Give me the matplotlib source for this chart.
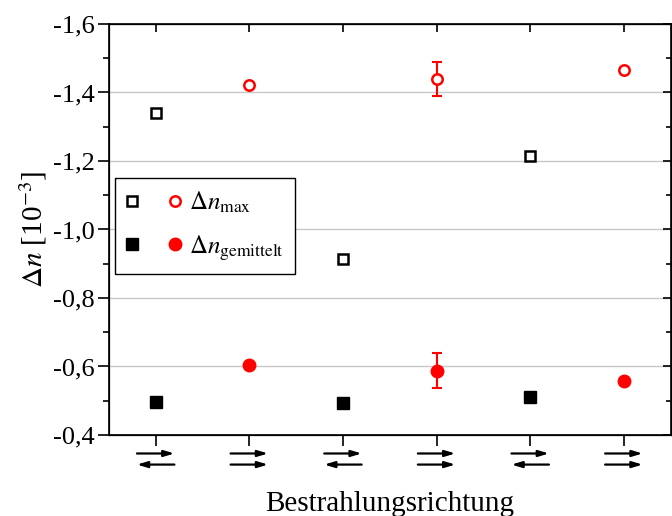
import matplotlib

matplotlib.use("Agg")
import matplotlib.pyplot as plt
import matplotlib.transforms as mtransforms
from matplotlib.legend_handler import HandlerTuple
from matplotlib.lines import Line2D
from matplotlib.ticker import FuncFormatter, MultipleLocator

plt.rcParams["font.family"] = ["Liberation Serif", "DejaVu Serif"]
plt.rcParams["mathtext.fontset"] = "stix"

# Daten (Delta n in 10^-3, Achse invertiert)
positionen = [1, 2, 3, 4, 5, 6]
# Pfeilrichtungen je Kategorie: (oben, unten), +1 = nach rechts, -1 = nach links
richtungen = [(1, -1), (1, 1), (1, -1), (1, 1), (1, -1), (1, 1)]

# Quadrate: Kategorien 1, 3, 5 ; Kreise: Kategorien 2, 4, 6
x_quadrat = [1, 3, 5]
x_kreis = [2, 4, 6]
dn_max_quadrat = [-1.339, -0.914, -1.215]
dn_max_kreis = [-1.422, -1.439, -1.466]
dn_max_kreis_fehler = [0.0, 0.05, 0.0]
dn_mittel_quadrat = [-0.497, -0.494, -0.512]
dn_mittel_kreis = [-0.603, -0.588, -0.559]
dn_mittel_kreis_fehler = [0.0, 0.05, 0.0]

figure = plt.figure(figsize=(6.72, 5.16), dpi=100)
axis = figure.add_axes([0.162, 0.157, 0.836, 0.7965])

axis.set_xlim(0.5, 6.5)
axis.set_ylim(-0.4, -1.6)

# Gitterlinien
axis.yaxis.set_major_locator(MultipleLocator(0.2))
axis.yaxis.set_minor_locator(MultipleLocator(0.1))
axis.grid(axis="y", which="major", color="#c8c8c8", linewidth=1.0)
axis.set_axisbelow(True)

axis.yaxis.set_major_formatter(
    FuncFormatter(lambda v, _: f"{v:.1f}".replace(".", ","))
)
axis.tick_params(axis="y", which="major", direction="out", length=8, width=1.2,
                 labelsize=19, pad=2)
axis.tick_params(axis="y", which="minor", direction="out", length=4.5, width=1.2)
axis.set_xticks(positionen)
axis.set_xticklabels([])
axis.tick_params(axis="x", direction="out", length=8, width=1.2)
for spine in axis.spines.values():
    spine.set_linewidth(1.2)

# rechte und obere Achse mit Ticks nach innen
right = axis.twinx()
right.set_ylim(axis.get_ylim())
right.yaxis.set_major_locator(MultipleLocator(0.2))
right.yaxis.set_minor_locator(MultipleLocator(0.1))
right.tick_params(axis="y", which="major", direction="in", length=6, width=1.2,
                  labelright=False)
right.tick_params(axis="y", which="minor", direction="in", length=3.5, width=1.2)
top = axis.twiny()
top.set_xlim(axis.get_xlim())
top.set_xticks(positionen)
top.tick_params(axis="x", direction="in", length=6, width=1.2, labeltop=False)

# Messpunkte
axis.plot(x_quadrat, dn_max_quadrat, "s", markersize=6.5, markerfacecolor="white",
          markeredgecolor="black", markeredgewidth=1.8, zorder=4)
axis.plot(x_quadrat, dn_mittel_quadrat, "s", markersize=8, color="black", zorder=4)
axis.plot(x_kreis, dn_max_kreis, "o", markersize=7.5, markerfacecolor="white",
          markeredgecolor="red", markeredgewidth=1.8, zorder=4)
axis.plot(x_kreis, dn_mittel_kreis, "o", markersize=9, color="red", zorder=4)

for werte, fehler in ((dn_max_kreis, dn_max_kreis_fehler),
                      (dn_mittel_kreis, dn_mittel_kreis_fehler)):
    for x, y, f in zip(x_kreis, werte, fehler):
        if f > 0:
            axis.errorbar(x, y, yerr=f, fmt="none", ecolor="red", elinewidth=1.5,
                          capsize=3.4, capthick=1.5, zorder=3)

# Pfeile als Tick-Beschriftung
trans = mtransforms.blended_transform_factory(axis.transData, axis.transAxes)
halbe_laenge = 0.2
for x, (oben, unten) in zip(positionen, richtungen):
    for y, richtung in ((-0.045, oben), (-0.072, unten)):
        start = x - richtung * halbe_laenge
        ende = x + richtung * halbe_laenge
        axis.annotate("", xy=(ende, y), xytext=(start, y), xycoords=trans,
                      textcoords=trans, annotation_clip=False,
                      arrowprops=dict(arrowstyle="-|>,head_length=0.6,head_width=0.18",
                                      color="black", lw=1.6, shrinkA=0, shrinkB=0))

axis.set_xlabel("Bestrahlungsrichtung", fontsize=21, labelpad=29)
axis.set_ylabel(r"$\Delta n$ [10$^{-3}$]", fontsize=21, labelpad=3)

# Legende
handles = [
    (Line2D([], [], ls="none", marker="s", markersize=6.5, markerfacecolor="white",
            markeredgecolor="black", markeredgewidth=1.8),
     Line2D([], [], ls="none", marker="o", markersize=7.5, markerfacecolor="white",
            markeredgecolor="red", markeredgewidth=1.8)),
    (Line2D([], [], ls="none", marker="s", markersize=8, color="black"),
     Line2D([], [], ls="none", marker="o", markersize=9, color="red")),
]
labels = [r"$\Delta n_{\mathrm{max}}$", r"$\Delta n_{\mathrm{gemittelt}}$"]
legend = axis.legend(
    handles, labels,
    handler_map={tuple: HandlerTuple(ndivide=None, pad=1.2)},
    loc="upper left", bbox_to_anchor=(0.0107, 0.625), borderaxespad=0,
    fontsize=18, fancybox=False, edgecolor="black", framealpha=1,
    handlelength=2.2, handletextpad=0.3, labelspacing=0.75, borderpad=0.45)
legend.get_frame().set_linewidth(1.0)
legend.set_zorder(10)

plt.savefig("out.png", dpi=100)
plt.close()
